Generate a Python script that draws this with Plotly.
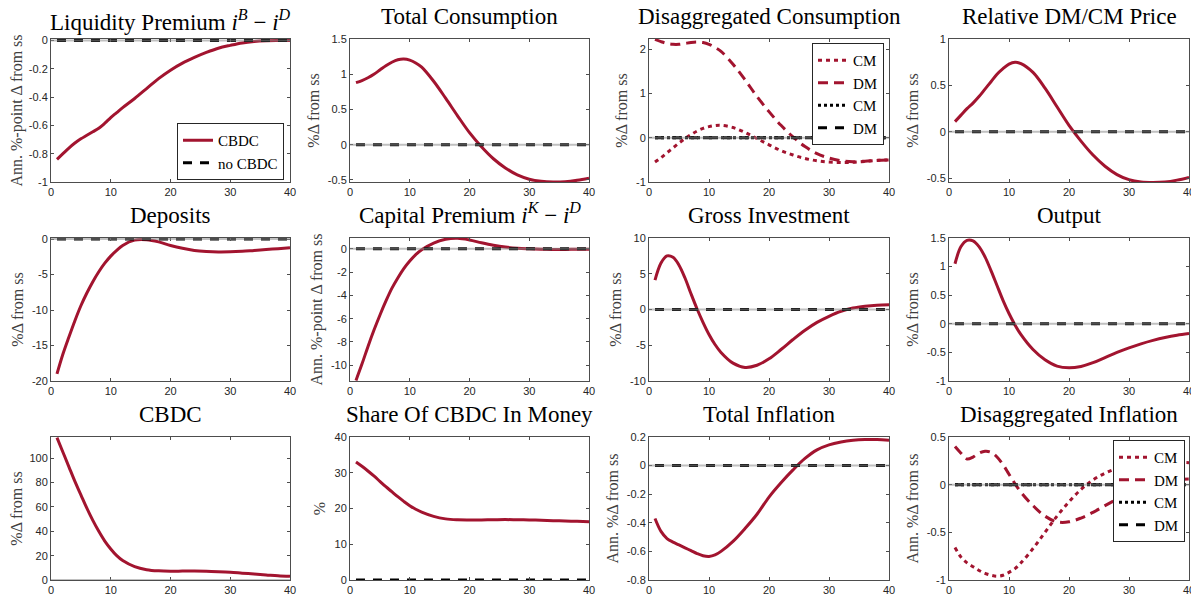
import plotly.graph_objects as go

# ---------------------------------------------------------------
# data (quarters after the shock)
# ---------------------------------------------------------------
X = [1, 2, 3, 4, 5, 6, 7, 8, 9, 10, 11, 12, 14, 16, 18, 20,
     22, 24, 26, 28, 30, 32, 34, 36, 38, 40]
NO_CBDC_X = [1, 40]
NO_CBDC_Y = [0, 0]

LIQ_PREM = [-0.84, -0.80, -0.76, -0.725, -0.695, -0.67, -0.645, -0.62, -0.585, -0.545,
            -0.51, -0.475, -0.41, -0.34, -0.27, -0.21, -0.16, -0.12, -0.085, -0.055,
            -0.035, -0.018, -0.008, -0.003, -0.001, 0.0]
TOT_CONS = [0.88, 0.91, 0.95, 1.00, 1.06, 1.12, 1.17, 1.205, 1.215, 1.20,
            1.16, 1.10, 0.90, 0.66, 0.41, 0.17, -0.03, -0.20, -0.33, -0.43,
            -0.49, -0.52, -0.53, -0.525, -0.505, -0.475]
CONS_CM = [-0.55, -0.45, -0.34, -0.23, -0.12, -0.02, 0.07, 0.15, 0.21, 0.25,
           0.275, 0.28, 0.23, 0.12, -0.02, -0.16, -0.29, -0.39, -0.47, -0.52,
           -0.55, -0.56, -0.555, -0.535, -0.515, -0.50]
CONS_DM = [2.22, 2.17, 2.13, 2.11, 2.11, 2.13, 2.15, 2.16, 2.15, 2.11,
           2.04, 1.95, 1.66, 1.31, 0.93, 0.59, 0.28, 0.02, -0.20, -0.36,
           -0.46, -0.52, -0.54, -0.53, -0.51, -0.50]
REL_PRICE = [0.11, 0.18, 0.25, 0.31, 0.38, 0.46, 0.54, 0.62, 0.68, 0.73,
             0.75, 0.735, 0.64, 0.47, 0.27, 0.07, -0.10, -0.25, -0.37, -0.46,
             -0.515, -0.54, -0.545, -0.54, -0.52, -0.49]
DEPOSITS = [-19.0, -16.2, -13.8, -11.5, -9.4, -7.6, -6.0, -4.6, -3.4, -2.4,
            -1.6, -0.9, -0.15, -0.1, -0.4, -0.9, -1.3, -1.6, -1.75, -1.82,
            -1.8, -1.72, -1.6, -1.48, -1.35, -1.22]
CAP_PREM = [-11.3, -9.9, -8.4, -7.0, -5.7, -4.5, -3.4, -2.5, -1.7, -1.05,
            -0.5, -0.08, 0.5, 0.82, 0.9, 0.76, 0.52, 0.31, 0.15, 0.05,
            0.0, -0.03, -0.05, -0.05, -0.04, -0.03]
INVEST = [4.1, 6.5, 7.5, 7.3, 6.2, 4.4, 2.2, 0.1, -1.8, -3.5,
          -4.9, -6.0, -7.5, -8.1, -7.8, -6.9, -5.6, -4.2, -2.9, -1.8,
          -0.95, -0.25, 0.2, 0.45, 0.6, 0.65]
OUTPUT = [1.05, 1.35, 1.46, 1.45, 1.35, 1.17, 0.93, 0.67, 0.41, 0.18,
          -0.02, -0.19, -0.45, -0.63, -0.74, -0.77, -0.745, -0.68, -0.59, -0.50,
          -0.42, -0.35, -0.29, -0.24, -0.20, -0.17]
CBDC = [117, 105, 93, 81, 70, 59, 49, 40, 32, 25.5,
        20, 16, 11, 8.5, 7.5, 7.2, 7.3, 7.4, 7.2, 6.8,
        6.3, 5.6, 4.9, 4.2, 3.5, 3.0]
CBDC_SHARE = [33.0, 31.8, 30.5, 29.1, 27.6, 26.1, 24.7, 23.3, 22.0, 20.8,
              19.8, 19.0, 17.8, 17.1, 16.85, 16.8, 16.8, 16.85, 16.9, 16.85,
              16.8, 16.7, 16.6, 16.5, 16.4, 16.3]
TOT_INFL = [-0.37, -0.46, -0.51, -0.535, -0.555, -0.575, -0.595, -0.615, -0.63, -0.635,
            -0.625, -0.60, -0.53, -0.44, -0.34, -0.22, -0.12, -0.03, 0.05, 0.11,
            0.145, 0.165, 0.177, 0.182, 0.182, 0.178]
INFL_CM = [-0.66, -0.76, -0.82, -0.86, -0.90, -0.93, -0.95, -0.96, -0.95, -0.92,
           -0.88, -0.82, -0.67, -0.50, -0.33, -0.18, -0.05, 0.05, 0.12, 0.17,
           0.20, 0.22, 0.23, 0.235, 0.235, 0.23]
INFL_DM = [0.40, 0.33, 0.27, 0.29, 0.33, 0.35, 0.34, 0.29, 0.21, 0.11,
           0.01, -0.08, -0.22, -0.33, -0.39, -0.39, -0.35, -0.29, -0.22, -0.15,
           -0.08, -0.02, 0.02, 0.045, 0.055, 0.06]

X_TICKS = [0, 10, 20, 30, 40]
X_TICK_LABELS = ["0", "10", "20", "30", "40"]

TITLES = [
    "Liquidity Premium <i>i</i><sup><i>B</i></sup> \u2212 <i>i</i><sup><i>D</i></sup>",
    "Total Consumption", "Disaggregated Consumption", "Relative DM/CM Price",
    "Deposits",
    "Capital Premium <i>i</i><sup><i>K</i></sup> \u2212 <i>i</i><sup><i>D</i></sup>",
    "Gross Investment", "Output",
    "CBDC", "Share Of CBDC In Money", "Total Inflation", "Disaggregated Inflation",
]
Y_LABELS = [
    "Ann. %-point \u0394 from ss", "%\u0394 from ss", "%\u0394 from ss", "%\u0394 from ss",
    "%\u0394 from ss", "Ann. %-point \u0394 from ss", "%\u0394 from ss", "%\u0394 from ss",
    "%\u0394 from ss", "%", "Ann. %\u0394 from ss", "Ann. %\u0394 from ss",
]
Y_TICKS = [
    [-1, -0.8, -0.6, -0.4, -0.2, 0], [-0.5, 0, 0.5, 1, 1.5], [-1, 0, 1, 2], [-0.5, 0, 0.5, 1],
    [-20, -15, -10, -5, 0], [-10, -8, -6, -4, -2, 0], [-10, -5, 0, 5, 10], [-1, -0.5, 0, 0.5, 1, 1.5],
    [0, 20, 40, 60, 80, 100], [0, 10, 20, 30, 40], [-0.8, -0.6, -0.4, -0.2, 0, 0.2], [-1, -0.5, 0, 0.5],
]
Y_TICK_LABELS = [
    ["-1", "-0.8", "-0.6", "-0.4", "-0.2", "0"], ["-0.5", "0", "0.5", "1", "1.5"],
    ["-1", "0", "1", "2"], ["-0.5", "0", "0.5", "1"],
    ["-20", "-15", "-10", "-5", "0"], ["-10", "-8", "-6", "-4", "-2", "0"],
    ["-10", "-5", "0", "5", "10"], ["-1", "-0.5", "0", "0.5", "1", "1.5"],
    ["0", "20", "40", "60", "80", "100"], ["0", "10", "20", "30", "40"],
    ["-0.8", "-0.6", "-0.4", "-0.2", "0", "0.2"], ["-1", "-0.5", "0", "0.5"],
]
Y_RANGES = [
    [-1, 0.01], [-0.53, 1.5], [-1, 2.23], [-0.54, 1],
    [-20, 0.15], [-11.35, 0.93], [-10, 10], [-1, 1.5],
    [0, 117.5], [0, 40], [-0.8, 0.2], [-1, 0.5],
]

# ---------------------------------------------------------------
# style
# ---------------------------------------------------------------
RED = "#A2142F"
BLACK = "#000000"
AXIS = "#4d4d4d"
TEXT = "#262626"
SERIF = "'Liberation Serif', 'DejaVu Serif', serif"
SANS = "'Liberation Sans', Arial, sans-serif"

# the page body keeps its default 8px margin, so the figure is drawn
# 8px smaller and all pixel positions below are shifted by that offset
PAGE = 8
W, H = 1199 - PAGE, 601 - PAGE
COL_PX = [(51, 290), (350, 589), (649, 889), (949, 1189)]
ROW_PX = [(39, 182), (238, 381), (437, 580)]


def px_x(p):
    return (p - PAGE) / W


def px_y(p):
    return 1 - (p - PAGE) / H


def xdom(c):
    return [px_x(COL_PX[c][0]), px_x(COL_PX[c][1])]


def ydom(r):
    return [px_y(ROW_PX[r][1]), px_y(ROW_PX[r][0])]


fig = go.Figure()


def line(n, y, color, dash, width, name=None, legend=None, x=None):
    fig.add_trace(go.Scatter(
        x=X if x is None else x, y=y,
        mode="lines",
        line=dict(color=color, width=width, dash=dash,
                  shape="spline" if x is None else "linear", smoothing=1.0),
        name=name,
        showlegend=legend is not None,
        legend=legend or "legend",
        xaxis=f"x{n}" if n > 1 else "x",
        yaxis=f"y{n}" if n > 1 else "y",
        hoverinfo="skip",
    ))


DOT = "4px,4px"
DASH = "10px,6px"
NODASH = "9px,8px"

# red = CBDC economy, black = no-CBDC benchmark
single = {1: LIQ_PREM, 2: TOT_CONS, 4: REL_PRICE, 5: DEPOSITS, 6: CAP_PREM,
          7: INVEST, 8: OUTPUT, 9: CBDC, 10: CBDC_SHARE, 11: TOT_INFL}
for n in range(1, 13):
    if n in (3, 12):
        leg = "legend2" if n == 3 else "legend3"
        cm, dm = (CONS_CM, CONS_DM) if n == 3 else (INFL_CM, INFL_DM)
        line(n, cm, RED, DOT, 3, "CM", leg)
        line(n, dm, RED, DASH, 3, "DM", leg)
        line(n, NO_CBDC_Y, BLACK, "3px,3px", 3, "CM", leg, x=NO_CBDC_X)
        line(n, NO_CBDC_Y, BLACK, NODASH, 3, "DM", leg, x=NO_CBDC_X)
    else:
        leg = "legend" if n == 1 else None
        line(n, single[n], RED, "solid", 3, "CBDC", leg)
        if n != 9:
            line(n, NO_CBDC_Y, BLACK, NODASH, 3, "no CBDC", leg, x=NO_CBDC_X)

layout = dict(
    width=W, height=H,
    paper_bgcolor="white", plot_bgcolor="white",
    margin=dict(l=0, r=0, t=0, b=0, autoexpand=False),
    font=dict(family=SANS, color=TEXT, size=11),
    showlegend=True,
)

annotations = []
shapes = []
for i in range(12):
    r, c = divmod(i, 4)
    n = i + 1
    sfx = "" if n == 1 else str(n)
    layout[f"xaxis{sfx}"] = dict(
        domain=xdom(c), anchor=f"y{sfx}", range=[0, 40], automargin=False,
        tickvals=X_TICKS, ticktext=X_TICK_LABELS,
        ticks="inside", ticklen=3, tickcolor=AXIS, tickwidth=1,
        showline=True, linecolor=AXIS, linewidth=1, mirror="ticks",
        showgrid=False, zeroline=False,
        tickfont=dict(family=SANS, size=11, color=TEXT),
    )
    layout[f"yaxis{sfx}"] = dict(
        domain=ydom(r), anchor=f"x{sfx}", range=Y_RANGES[i], automargin=False,
        tickvals=Y_TICKS[i], ticktext=Y_TICK_LABELS[i],
        ticks="inside", ticklen=3, tickcolor=AXIS, tickwidth=1,
        showline=True, linecolor=AXIS, linewidth=1, mirror="ticks",
        showgrid=False, zeroline=False,
        tickfont=dict(family=SANS, size=11, color=TEXT),
        title=dict(text=Y_LABELS[i], standoff=4,
                   font=dict(family=SERIF, size=16, color="#404040")),
    )
    # the first title carries superscripts and would touch the page top
    annotations.append(dict(
        text=TITLES[i], xref="paper", yref="paper",
        x=sum(xdom(c)) / 2, y=ydom(r)[1],
        xanchor="center", yanchor="bottom",
        yshift=2 if n == 1 else 8, showarrow=False,
        font=dict(family=SERIF, size=23, color="#000000"),
    ))
    if n != 10:
        shapes.append(dict(
            type="line", xref=f"x{sfx} domain", yref=f"y{sfx}",
            x0=0, x1=1, y0=0, y1=0, layer="above",
            line=dict(color="rgba(140,140,140,0.55)", width=2),
        ))

legend_style = dict(
    bgcolor="white", bordercolor="#262626", borderwidth=1,
    font=dict(family=SERIF, size=15, color="#000000"),
    itemwidth=30, tracegroupgap=0, xanchor="right", yanchor="top",
)
layout["legend"] = dict(legend_style, x=px_x(284), y=px_y(123))
layout["legend2"] = dict(legend_style, x=px_x(884), y=px_y(43))
layout["legend3"] = dict(legend_style, x=px_x(1185), y=px_y(440))
layout["annotations"] = annotations
layout["shapes"] = shapes

fig.update_layout(**layout)
fig.write_html("out.html")
